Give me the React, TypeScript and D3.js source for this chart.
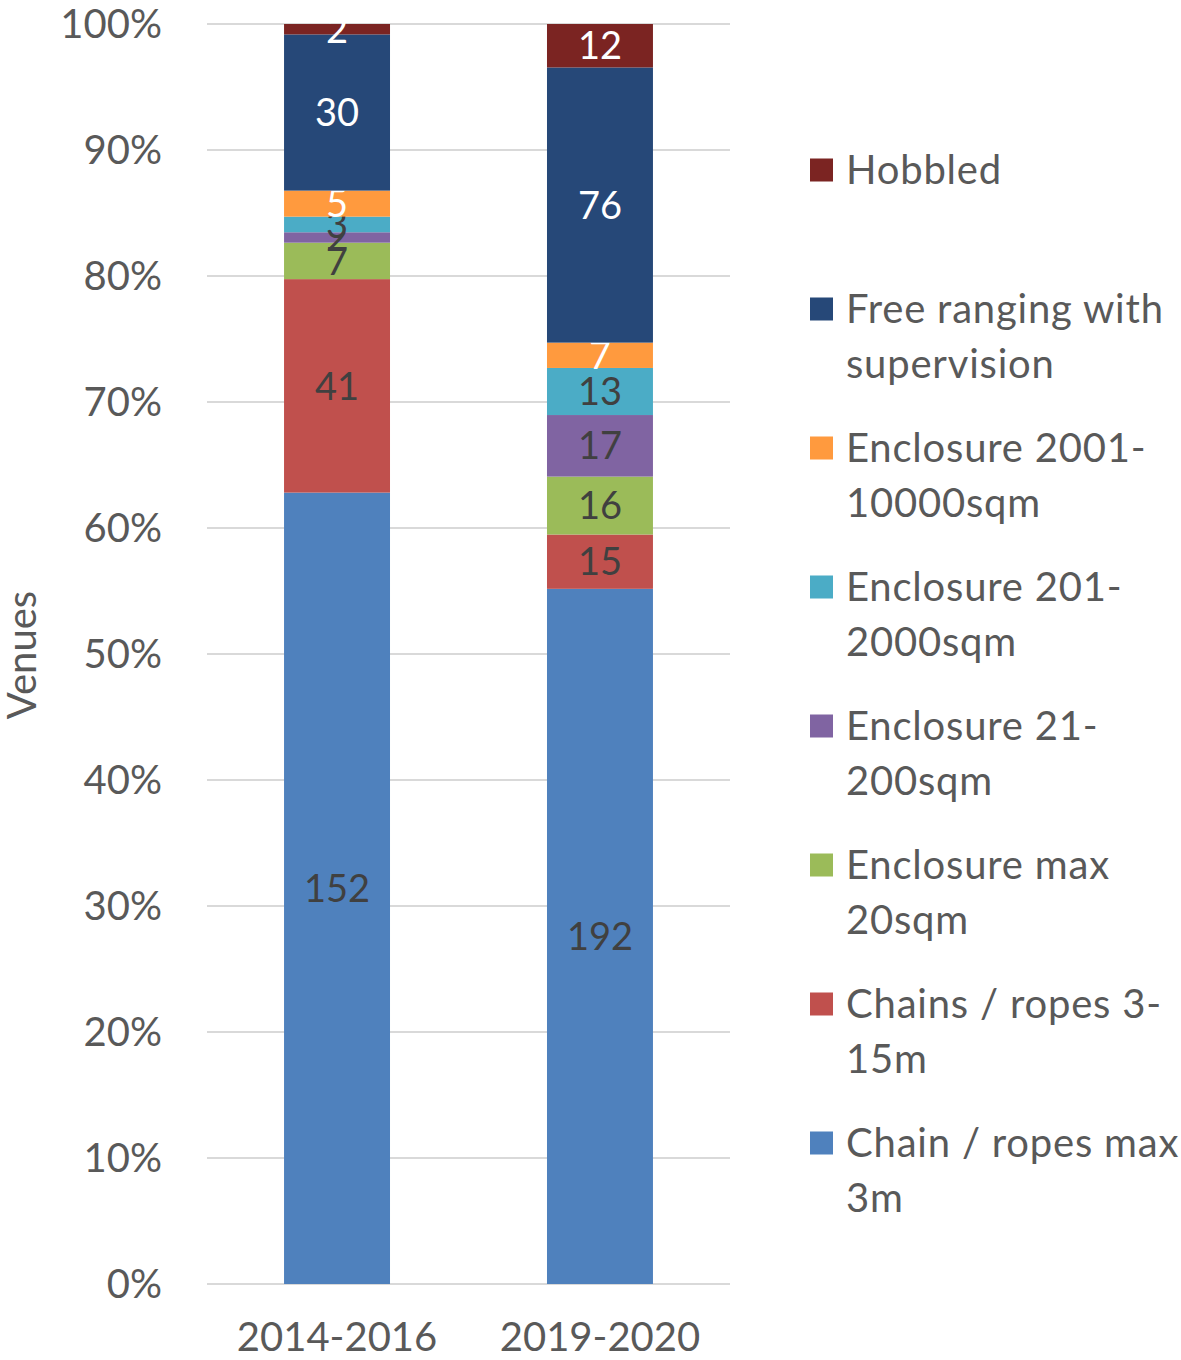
import * as d3 from 'd3'

const periods = ['2014-2016', '2019-2020']

// bottom to top stacking order
const seriesNames = [
  'Chain / ropes max 3m',
  'Chains / ropes 3-15m',
  'Enclosure max 20sqm',
  'Enclosure 21-200sqm',
  'Enclosure 201-2000sqm',
  'Enclosure 2001-10000sqm',
  'Free ranging with supervision',
  'Hobbled',
]

const venues2014 = [152, 41, 7, 2, 3, 5, 30, 2]
const venues2019 = [192, 15, 16, 17, 13, 7, 76, 12]

const seriesColors = ['#4F81BD', '#C0504D', '#9BBB59', '#8064A2', '#4BACC6', '#FF9A3E', '#264878', '#7B2422']
const labelColors = ['#404040', '#404040', '#404040', '#404040', '#404040', '#FFFFFF', '#FFFFFF', '#FFFFFF']

// legend text split into lines, top to bottom
const legendLines = [
  ['Hobbled'],
  ['Free ranging with', 'supervision'],
  ['Enclosure 2001-', '10000sqm'],
  ['Enclosure 201-', '2000sqm'],
  ['Enclosure 21-', '200sqm'],
  ['Enclosure max', '20sqm'],
  ['Chains / ropes 3-', '15m'],
  ['Chain / ropes max', '3m'],
]

const yTicks = [0, 0.1, 0.2, 0.3, 0.4, 0.5, 0.6, 0.7, 0.8, 0.9, 1]

const font = 'Lato, "Open Sans", sans-serif'
const textColor = '#595959'

export default function App() {
  const width = 1181
  const height = 1360
  const plot = { left: 207, right: 730, top: 24, bottom: 1284 }

  const rows = periods.map((p, i) => {
    const vals = i === 0 ? venues2014 : venues2019
    const row: any = { period: p }
    seriesNames.forEach((s, j) => (row[s] = vals[j]))
    return row
  })

  const stack = d3.stack<any>().keys(seriesNames).offset(d3.stackOffsetExpand)
  const layers = stack(rows)

  const x = d3.scaleBand()
    .domain(periods)
    .range([plot.left, plot.right])
    .paddingInner(0.597)
    .paddingOuter(0.293)

  const y = d3.scaleLinear().domain([0, 1]).range([plot.bottom, plot.top])
  const fmt = d3.format('.0%')

  return (
    <svg width={width} height={height} style={{ position: 'absolute', left: 0, top: 0, background: '#fff' }}
      fontFamily={font}>
      {yTicks.map(t => (
        <g key={t}>
          <line x1={plot.left} x2={plot.right} y1={y(t)} y2={y(t)} stroke="#D9D9D9" strokeWidth={2} />
          <text x={162} y={y(t)} dy="0.36em" textAnchor="end" fontSize={40} fill={textColor}>{fmt(t)}</text>
        </g>
      ))}

      {layers.map((layer, li) => (
        <g key={layer.key}>
          {layer.map((d, di) => {
            const x0 = x(periods[di]) as number
            const y0 = y(d[1])
            const h = y(d[0]) - y(d[1])
            const val = (di === 0 ? venues2014 : venues2019)[li]
            return (
              <g key={di}>
                <rect x={x0} y={y0} width={x.bandwidth()} height={h} fill={seriesColors[li]} />
                <text x={x0 + x.bandwidth() / 2} y={y0 + h / 2} dy="0.36em" textAnchor="middle"
                  fontSize={38} fill={labelColors[li]}>{val}</text>
              </g>
            )
          })}
        </g>
      ))}

      {periods.map(p => (
        <text key={p} x={(x(p) as number) + x.bandwidth() / 2} y={1337} dy="0.36em" textAnchor="middle"
          fontSize={40} fill={textColor}>{p}</text>
      ))}

      <text transform="translate(22,655) rotate(-90)" dy="0.36em" textAnchor="middle" fontSize={40} fill={textColor}>Venues</text>

      {legendLines.map((lines, i) => {
        const cy = 170 + i * 139
        const color = seriesColors[seriesNames.length - 1 - i]
        return (
          <g key={i}>
            <rect x={810} y={cy - 11.5} width={23} height={23} fill={color} />
            {lines.map((ln, k) => (
              <text key={k} x={846} y={cy + k * 55} dy="0.36em" fontSize={40} letterSpacing={0.8} fill={textColor}>{ln}</text>
            ))}
          </g>
        )
      })}
    </svg>
  )
}
